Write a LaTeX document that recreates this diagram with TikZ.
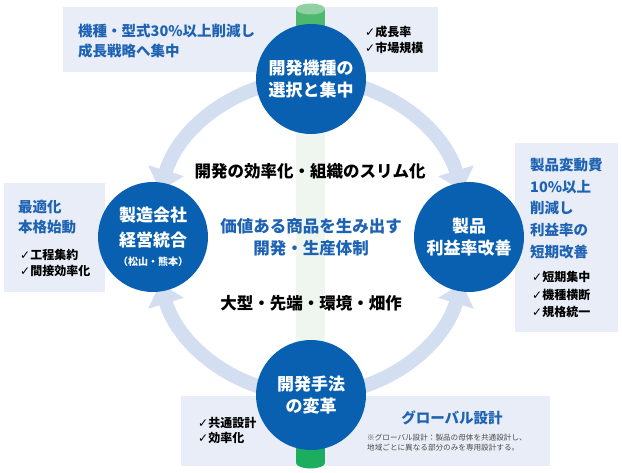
\documentclass[tikz,border=0pt]{standalone}
\usepackage{fontspec}
\setmainfont{Noto Sans CJK JP}
\newfontfamily\chkfont{DejaVu Sans}
\usetikzlibrary{arrows.meta}
\newcommand{\chk}{{\chkfont ✓}}
\begin{document}
\begin{tikzpicture}[x=1pt,y=1pt,
  ringarrow/.style={line width=14pt,draw=ringblue,-{Triangle[width=36pt,length=21pt]}},
  hub/.style={circle,fill=hubblue,minimum size=110pt,inner sep=0pt,text=white,align=center,
    font=\fontsize{17}{22}\selectfont\bfseries},
  panel/.style={fill=panelblue},
  bluetext/.style={text=textblue,anchor=west,inner sep=0pt,align=left,font=\fontsize{14.5}{20}\selectfont\bfseries},
  checktext/.style={anchor=west,inner sep=0pt,align=left,font=\fontsize{12}{16.5}\selectfont\bfseries},
  midtext/.style={inner sep=0pt,align=center,font=\fontsize{16.5}{22}\selectfont\bfseries}]
  \definecolor{hubblue}{HTML}{0A60B0}
  \definecolor{textblue}{HTML}{1E63B3}
  \definecolor{panelblue}{HTML}{E8EDF7}
  \definecolor{ringblue}{HTML}{D3DEF1}
  \definecolor{polegreen}{HTML}{4DB86E}
  \definecolor{polecap}{HTML}{8FD1A0}
  \definecolor{polelow}{HTML}{1DAD5F}
  \definecolor{polepale}{HTML}{EEF6EF}
  \useasboundingbox (0,0) rectangle (622,472);
  \fill [panel] (63,400) rectangle (438,465);
  \fill [panel] (4,180) rectangle (105,289);
  \fill [panel] (515,140) rectangle (618,329);
  \fill [panel] (181,6) rectangle (550,76);
  \fill [polegreen] (296,380) rectangle (325,463);
  \fill [polecap] (310.5,463) ellipse (14.5 and 5.5);
  \fill [polelow] (296,9) rectangle (325,100);
  \fill [polelow] (310.5,9) ellipse (14.5 and 5.5);
  \fill [polepale] (296,100) rectangle (325,380);
  \coordinate (hubc) at (311,235);
  \draw [ringarrow] (hubc) ++(90:158) arc [start angle=90,end angle=17,radius=158];
  \draw [ringarrow] (hubc) ++(90:158) arc [start angle=90,end angle=163,radius=158];
  \draw [ringarrow] (hubc) ++(270:158) arc [start angle=270,end angle=343,radius=158];
  \draw [ringarrow] (hubc) ++(270:158) arc [start angle=270,end angle=197,radius=158];
  \node [hub] (select) at (311,393) {開発機種の\\選択と集中};
  \node [hub] (merge) at (153,235) {製造会社\\[3pt]経営統合\\[-3pt]{\fontsize{10}{12}\selectfont（松山・熊本）}};
  \node [hub] (profit) at (469,235) {製品\\利益率改善};
  \node [hub] (method) at (311,77) {開発手法\\の変革};
  \node [bluetext] (goal) at (78,431) {機種・型式30\%以上削減し\\成長戦略へ集中};
  \node [checktext] (growth) at (365,432) {\chk 成長率\\\chk 市場規模};
  \node [bluetext] (optim) at (18,255) {最適化\\本格始動};
  \node [checktext] (factory) at (20,209) {\chk 工程集約\\\chk 間接効率化};
  \node [bluetext,font=\fontsize{14.5}{21.75}\selectfont\bfseries] (cost) at (530,263.5)
    {製品変動費\\10\%以上\\削減し\\利益率の\\短期改善};
  \node [checktext,font=\fontsize{12}{17.5}\selectfont\bfseries] (spec) at (532,177.5)
    {\chk 短期集中\\\chk 機種横断\\\chk 規格統一};
  \node [checktext,font=\fontsize{12}{15}\selectfont\bfseries] (common) at (198,41.5)
    {\chk 共通設計\\\chk 効率化};
  \node [bluetext,anchor=center] (global) at (452,54) {グローバル設計};
  \node [anchor=west,inner sep=0pt,align=left,text=black!70,font=\fontsize{7.6}{10}\selectfont] (note) at (367,29)
    {※グローバル設計：製品の母体を共通設計し、\\地域ごとに異なる部分のみを専用設計する。};
  \node [midtext] (slim) at (310,301) {開発の効率化・組織のスリム化};
  \node [midtext,text=textblue] (value) at (311,235) {価値ある商品を生み出す\\開発・生産体制};
  \node [midtext] (field) at (311,169) {大型・先端・環境・畑作};
\end{tikzpicture}
\end{document}
